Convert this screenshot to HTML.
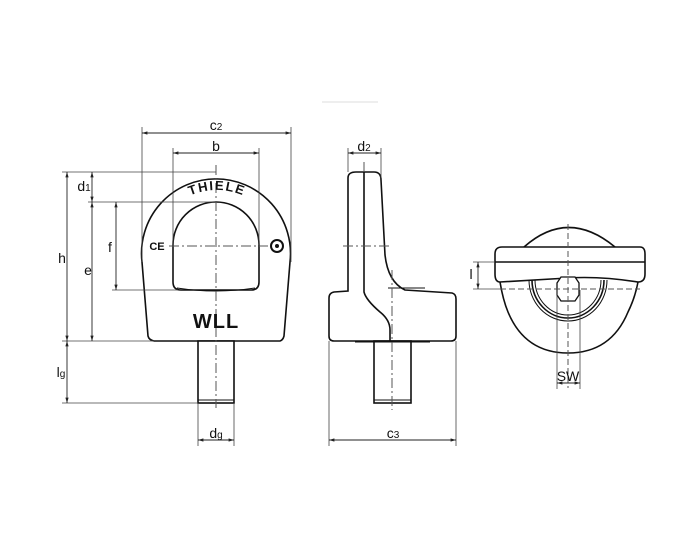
<!DOCTYPE html>
<html><head><meta charset="utf-8"><style>
html,body{margin:0;padding:0;background:#fff;}
svg{display:block;}
text{font-family:"Liberation Sans",sans-serif;fill:#111;}
</style></head><body>
<svg width="700" height="560" viewBox="0 0 700 560" xmlns="http://www.w3.org/2000/svg">
<defs>
<marker id="a" viewBox="0 0 10 10" refX="10" refY="5" markerWidth="6" markerHeight="6" orient="auto-start-reverse"><path d="M0,2 L10,5 L0,8 z" fill="#222"/></marker>
</defs>
<line x1="322" y1="102" x2="378" y2="102" stroke="#ddd" stroke-width="1"/>

<!-- FRONT VIEW -->
<g fill="none" stroke="#111" stroke-width="1.6">
<path d="M154,341 L280,341 Q283,340 284,336 L290,262 A74.5,74.5 0 1 0 142,262 L148,336 Q149,340 154,341 Z" fill="#fff"/>
<path d="M173,245 A43,43 0 0 1 259,245 L259,282 Q259,290 251,290 L181,290 Q173,290 173,282 Z"/>
<path d="M177,288 Q216,294 255,288" stroke-width="1"/>
<rect x="198" y="341" width="36" height="62" fill="#fff"/>
<line x1="198" y1="400" x2="234" y2="400" stroke-width="1"/>
</g>
<g stroke="#555" stroke-width="1" fill="none">
<line x1="169" y1="246" x2="268" y2="246" stroke-dasharray="10,3,2,3"/>
<line x1="216" y1="165" x2="216" y2="408" stroke-dasharray="10,3,2,3"/>
</g>
<g stroke="#444" stroke-width="0.8" fill="none">
<line x1="142" y1="127" x2="142" y2="262"/><line x1="291" y1="127" x2="291" y2="262"/>
<line x1="173" y1="148" x2="173" y2="245"/><line x1="259" y1="148" x2="259" y2="245"/>
<line x1="62" y1="172" x2="216" y2="172"/>
<line x1="88" y1="202" x2="216" y2="202"/>
<line x1="112" y1="290" x2="178" y2="290"/>
<line x1="62" y1="341" x2="154" y2="341"/>
<line x1="62" y1="403" x2="198" y2="403"/>
<line x1="198" y1="403" x2="198" y2="446"/><line x1="234" y1="403" x2="234" y2="446"/>
</g>
<g stroke="#222" stroke-width="0.9" fill="none" marker-start="url(#a)" marker-end="url(#a)">
<line x1="142" y1="133" x2="291" y2="133"/>
<line x1="173" y1="153" x2="259" y2="153"/>
<line x1="67" y1="172" x2="67" y2="341"/>
<line x1="92" y1="172" x2="92" y2="202"/>
<line x1="92" y1="202" x2="92" y2="341"/>
<line x1="116" y1="202" x2="116" y2="290"/>
<line x1="67" y1="341" x2="67" y2="403"/>
<line x1="198" y1="440" x2="234" y2="440"/>
</g>
<text x="216" y="130" font-size="14" text-anchor="middle">c<tspan font-size="10">2</tspan></text>
<text x="216" y="151" font-size="14" text-anchor="middle">b</text>
<text x="62" y="263" font-size="14" text-anchor="middle">h</text>
<text x="84" y="191" font-size="14" text-anchor="middle">d<tspan font-size="10">1</tspan></text>
<text x="88" y="275" font-size="14" text-anchor="middle">e</text>
<text x="110" y="252" font-size="14" text-anchor="middle">f</text>
<text x="61" y="377" font-size="14" text-anchor="middle">l<tspan font-size="10">g</tspan></text>
<text x="216" y="438" font-size="14" text-anchor="middle">d<tspan font-size="10">g</tspan></text>
<path id="arcT" d="M183,199 Q216,181 251,199" fill="none"/>
<text font-size="13" font-weight="bold" letter-spacing="1.5"><textPath href="#arcT" startOffset="50%" text-anchor="middle">THIELE</textPath></text>
<text x="216" y="328" font-size="20" font-weight="bold" text-anchor="middle" letter-spacing="1">WLL</text>
<text x="157" y="250" font-size="11" font-weight="bold" text-anchor="middle">CE</text>
<circle cx="277" cy="246" r="6" fill="none" stroke="#111" stroke-width="2"/>
<circle cx="277" cy="246" r="2" fill="#111"/>

<!-- SIDE VIEW -->
<g fill="none" stroke="#111" stroke-width="1.6">
<path d="M348,178 Q348,172 356,172 L374,172 Q381,172 381,180 L385,255 Q388,282 405,290 L452,293 Q456,294 456,299 L456,336 Q456,341 451,341 L334,341 Q329,341 329,336 L329,298 Q329,293 334,292 L348,291 Z" fill="#fff"/>
<path d="M364,172 L364,292 Q366,300 380,312 Q390,320 390,330 L390,341"/>
<line x1="388" y1="288" x2="425" y2="288" stroke-width="1"/>
<rect x="374" y="341" width="37" height="62" fill="#fff"/>
<line x1="374" y1="400" x2="411" y2="400" stroke-width="1"/>
<line x1="355" y1="342" x2="430" y2="342" stroke-width="1"/>
</g>
<g stroke="#555" stroke-width="1" fill="none" stroke-dasharray="10,3,2,3">
<line x1="343" y1="246" x2="390" y2="246"/>
<line x1="392" y1="270" x2="392" y2="410"/>
<line x1="364" y1="162" x2="364" y2="172"/>
</g>
<g stroke="#444" stroke-width="0.8">
<line x1="348" y1="148" x2="348" y2="172"/><line x1="381" y1="148" x2="381" y2="178"/>
<line x1="329" y1="341" x2="329" y2="446"/><line x1="456" y1="341" x2="456" y2="446"/>
</g>
<g stroke="#222" stroke-width="0.9" marker-start="url(#a)" marker-end="url(#a)">
<line x1="348" y1="153" x2="381" y2="153"/>
<line x1="329" y1="440" x2="456" y2="440"/>
</g>
<text x="364" y="151" font-size="14" text-anchor="middle">d<tspan font-size="10">2</tspan></text>
<text x="393" y="438" font-size="14" text-anchor="middle">c<tspan font-size="10">3</tspan></text>

<!-- TOP VIEW -->
<g fill="none" stroke="#111" stroke-width="1.6">
<path d="M524,247 Q568,208 615,247" fill="#fff"/>
<path d="M500,282 Q503,300 508,312 Q525,353 568,353 Q611,353 628,312 Q635,298 638,282" fill="#fff"/>
<path d="M532,280 A36,38 0 0 0 604,280"/>
<path d="M535,280 A33,35 0 0 0 601,280" stroke-width="1"/>
<path d="M529,280 A39,41 0 0 0 607,280" stroke-width="1"/>
<path d="M502,247 L640,247 Q645,247 645,254 L645,274 Q645,282 638,282 Q600,276 568,278 Q535,280 500,282 Q495,282 495,274 L495,254 Q495,247 502,247 Z" fill="#fff"/>
<line x1="495" y1="262" x2="645" y2="262"/>
<path d="M557,283 L561,277 L575,277 L579,283 L579,295 L575,301 L561,301 L557,295 Z" stroke-width="1.3" fill="#fff"/>
</g>
<g stroke="#555" stroke-width="1" fill="none" stroke-dasharray="6,3">
<line x1="568" y1="224" x2="568" y2="388"/>
<line x1="500" y1="289" x2="640" y2="289"/>
</g>
<g stroke="#444" stroke-width="0.8">
<line x1="473" y1="262" x2="495" y2="262"/><line x1="473" y1="289" x2="500" y2="289"/>
<line x1="557" y1="290" x2="557" y2="389"/><line x1="580" y1="290" x2="580" y2="389"/>
</g>
<g stroke="#222" stroke-width="0.9" marker-start="url(#a)" marker-end="url(#a)">
<line x1="478" y1="262" x2="478" y2="289"/>
<line x1="557" y1="383" x2="580" y2="383"/>
</g>
<text x="471" y="279" font-size="14" text-anchor="middle">l</text>
<text x="568" y="381" font-size="14" text-anchor="middle">SW</text>
</svg>
</body></html>
